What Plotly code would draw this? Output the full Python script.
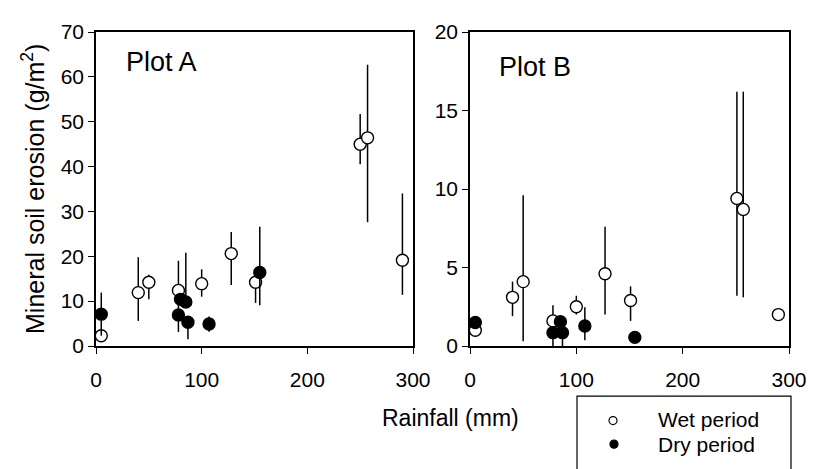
import plotly.graph_objects as go

# ---------------- data ----------------
# Plot A
a_wet_rain = [5, 40, 50, 78, 100, 128, 151, 250, 257, 290]
a_wet_eros = [2.3, 11.9, 14.2, 12.4, 13.9, 20.6, 14.2, 45.0, 46.4, 19.1]
a_wet_plus = [0.0, 7.9, 1.7, 6.6, 3.2, 4.8, 0.0, 6.7, 16.3, 14.9]
a_wet_minus = [0.0, 6.3, 3.8, 6.6, 2.9, 7.0, 4.6, 4.5, 18.8, 7.7]

a_dry_rain = [5, 78, 80, 85, 87, 107, 155]
a_dry_eros = [7.1, 6.9, 10.4, 9.8, 5.3, 4.9, 16.4]
a_dry_plus = [4.8, 0.0, 0.0, 11.0, 0.0, 1.7, 10.2]
a_dry_minus = [4.8, 3.8, 0.0, 0.0, 3.8, 1.7, 7.3]

# Plot B
b_wet_rain = [5, 40, 50, 78, 100, 127, 151, 251, 257, 290]
b_wet_eros = [1.0, 3.1, 4.1, 1.6, 2.5, 4.6, 2.9, 9.4, 8.7, 2.0]
b_wet_plus = [0.0, 1.0, 5.5, 1.0, 0.7, 3.0, 0.9, 6.8, 7.5, 0.0]
b_wet_minus = [0.0, 1.2, 3.8, 0.0, 0.5, 2.6, 1.3, 6.2, 5.6, 0.0]

b_dry_rain = [5, 78, 85, 87, 108, 155]
b_dry_eros = [1.5, 0.85, 1.55, 0.85, 1.27, 0.55]
b_dry_plus = [0.0, 0.0, 0.0, 0.0, 1.2, 0.0]
b_dry_minus = [0.0, 0.85, 0.0, 0.85, 0.9, 0.0]

x_ticks = [0, 100, 200, 300]
a_y_ticks = [0, 10, 20, 30, 40, 50, 60, 70]
b_y_ticks = [0, 5, 10, 15, 20]

# ---------------- layout helpers ----------------
# the page body has an 8px margin; the figure therefore starts at (8, 8)
OFF = 8
W, H = 820 - OFF, 469 - OFF
# plot area in page pixels: x 96..789, y 26..346
ML, MR, MT, MB = 96 - OFF, 31, 26 - OFF, 123
PW = W - ML - MR
PH = H - MT - MB


def px(x):
    # page pixel x -> paper fraction
    return (x - OFF - ML) / PW


def py(y):
    # page pixel y -> paper fraction
    return (H - MB - (y - OFF)) / PH


FONT = "Liberation Sans, Arial, sans-serif"
BLACK = "#000000"

fig = go.Figure()


def add_series(xs, ys, plus, minus, filled, xa, ya, name):
    fig.add_trace(go.Scatter(
        x=xs, y=ys, mode="markers", name=name, showlegend=False,
        xaxis=xa, yaxis=ya,
        marker=dict(symbol="circle", size=12,
                    color=BLACK if filled else "white",
                    line=dict(color=BLACK, width=1.4)),
        error_y=dict(type="data", symmetric=False, array=plus,
                     arrayminus=minus, color=BLACK, thickness=1.5, width=0),
    ))


add_series(a_wet_rain, a_wet_eros, a_wet_plus, a_wet_minus, False, "x", "y", "Wet period")
add_series(a_dry_rain, a_dry_eros, a_dry_plus, a_dry_minus, True, "x", "y", "Dry period")
add_series(b_wet_rain, b_wet_eros, b_wet_plus, b_wet_minus, False, "x2", "y2", "Wet period")
add_series(b_dry_rain, b_dry_eros, b_dry_plus, b_dry_minus, True, "x2", "y2", "Dry period")

axis_common = dict(
    showline=True, linecolor=BLACK, linewidth=1.5, mirror=True,
    ticks="outside", ticklen=6, tickwidth=1, tickcolor=BLACK,
    showgrid=False, zeroline=False,
    tickfont=dict(family=FONT, size=21, color=BLACK),
)

fig.update_layout(
    width=W, height=H,
    margin=dict(l=ML, r=MR, t=MT, b=MB),
    paper_bgcolor="white", plot_bgcolor="white",
    showlegend=False,
    xaxis=dict(domain=[0, px(413)], range=[0, 300], tickvals=x_ticks, anchor="y",
               ticklabelstandoff=8, **axis_common),
    yaxis=dict(domain=[0, 1], range=[0, 70], tickvals=a_y_ticks, anchor="x", **axis_common),
    xaxis2=dict(domain=[px(470), 1], range=[0, 300], tickvals=x_ticks, anchor="y2",
                ticklabelstandoff=8, **axis_common),
    yaxis2=dict(domain=[0, 1], range=[0, 20], tickvals=b_y_ticks, anchor="x2", **axis_common),
)

ann_font = dict(family=FONT, size=23, color=BLACK)
leg_font = dict(family=FONT, size=21, color=BLACK)
annotations = [
    dict(text="Plot A", x=px(124), y=py(57), xref="paper", yref="paper",
         xanchor="left", yanchor="middle", showarrow=False,
         font=dict(family=FONT, size=27, color=BLACK)),
    dict(text="Plot B", x=px(497), y=py(62), xref="paper", yref="paper",
         xanchor="left", yanchor="middle", showarrow=False,
         font=dict(family=FONT, size=27, color=BLACK)),
    dict(text="Mineral soil erosion (g/m<sup>2</sup>)", x=px(33), y=py(186),
         xref="paper", yref="paper", xanchor="center", yanchor="middle",
         textangle=-90, showarrow=False, font=dict(family=FONT, size=25, color=BLACK)),
    dict(text="Rainfall (mm)", x=px(450), y=py(419), xref="paper", yref="paper",
         xanchor="center", yanchor="middle", showarrow=False, font=ann_font),
    dict(text="Wet period", x=px(656), y=py(421), xref="paper", yref="paper",
         xanchor="left", yanchor="middle", showarrow=False, font=leg_font),
    dict(text="Dry period", x=px(656), y=py(446), xref="paper", yref="paper",
         xanchor="left", yanchor="middle", showarrow=False, font=leg_font),
]

shapes = [
    dict(type="rect", xref="paper", yref="paper",
         x0=px(577), x1=px(791), y0=py(475), y1=py(397),
         line=dict(color=BLACK, width=1.2), fillcolor="white", layer="below"),
    dict(type="circle", xref="paper", yref="paper", xsizemode="pixel", ysizemode="pixel",
         xanchor=px(613), yanchor=py(422), x0=-4, x1=4, y0=-4, y1=4,
         line=dict(color=BLACK, width=1.2), fillcolor="white"),
    dict(type="circle", xref="paper", yref="paper", xsizemode="pixel", ysizemode="pixel",
         xanchor=px(614), yanchor=py(446), x0=-4, x1=4, y0=-4, y1=4,
         line=dict(color=BLACK, width=1.2), fillcolor=BLACK),
]

fig.update_layout(annotations=annotations, shapes=shapes)

fig.write_html("out.html")
